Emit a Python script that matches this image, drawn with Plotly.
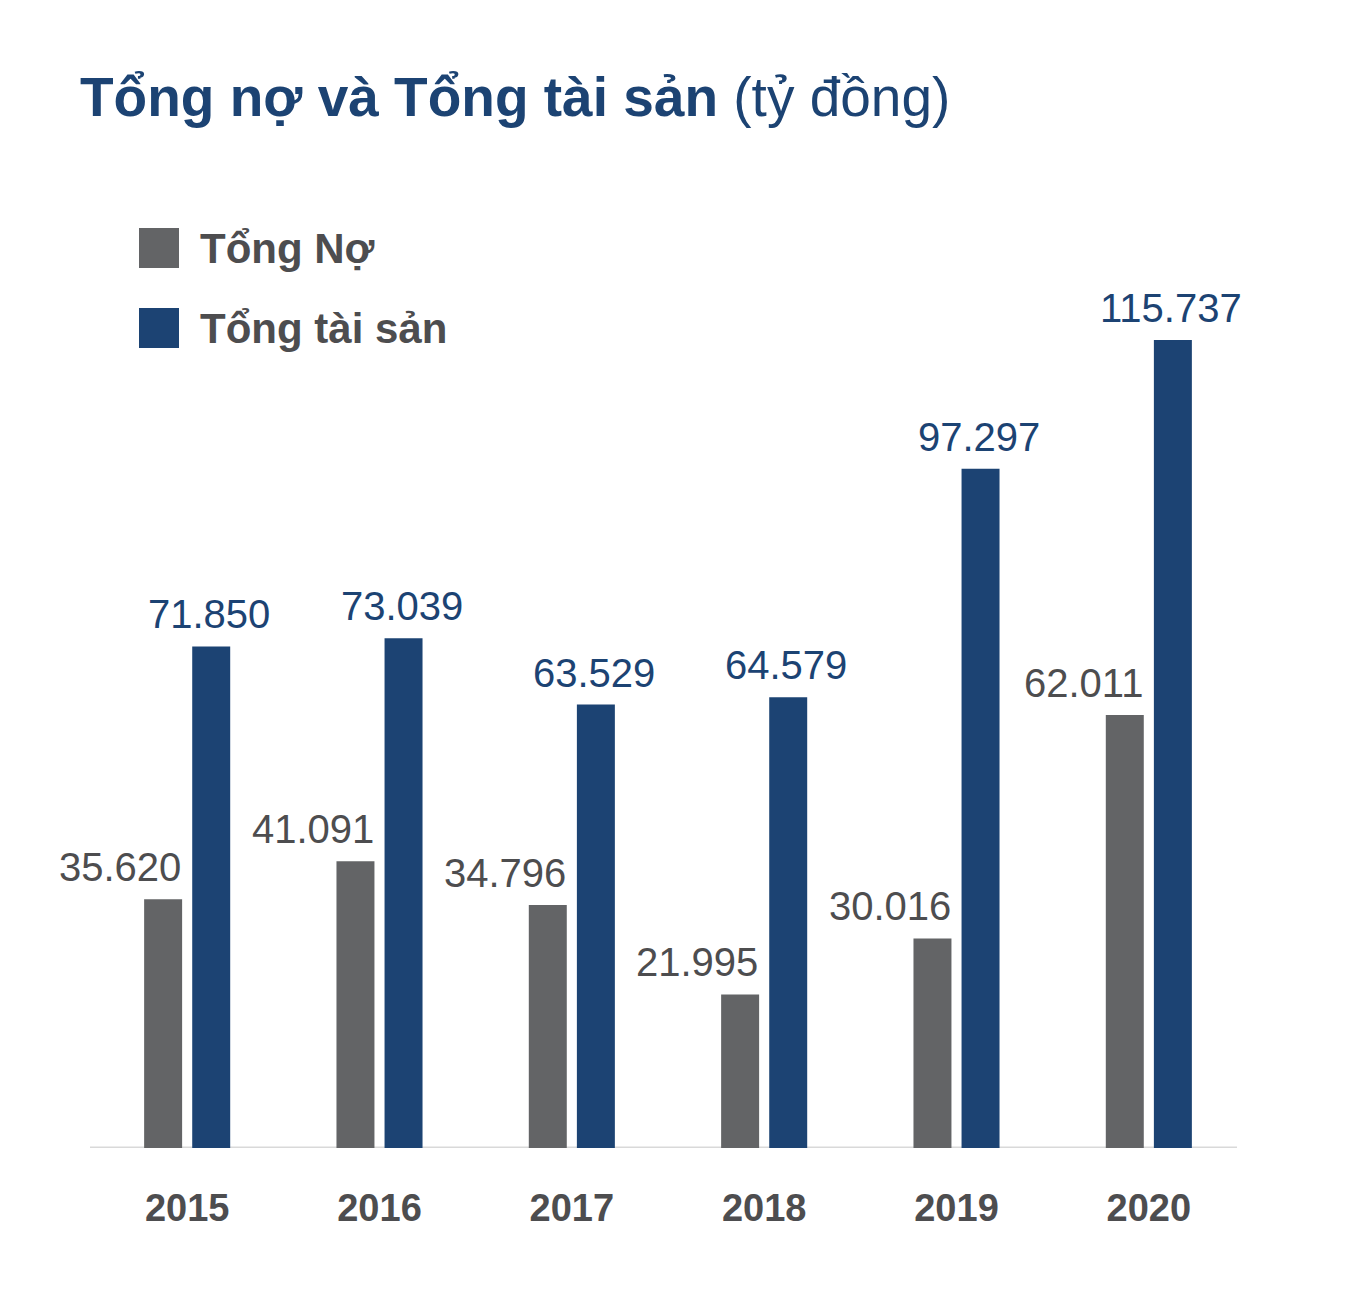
import plotly.graph_objects as go

years = ["2015", "2016", "2017", "2018", "2019", "2020"]
tong_no = [35620, 41091, 34796, 21995, 30016, 62011]
tong_tai_san = [71850, 73039, 63529, 64579, 97297, 115737]
series_names = ["Tổng Nợ", "Tổng tài sản"]

GRAY = "#636466"
BLUE = "#1c4373"
TEXT_GRAY = "#4d4d4f"
FONT = "Liberation Sans, Arial, sans-serif"


def fmt(v):
    return f"{v:,}".replace(",", ".")


fig = go.Figure()
fig.add_trace(go.Bar(x=years, y=tong_no, name=series_names[0], marker_color=GRAY,
                     marker_line_width=0, showlegend=False))
fig.add_trace(go.Bar(x=years, y=tong_tai_san, name=series_names[1], marker_color=BLUE,
                     marker_line_width=0, showlegend=False))

annotations = []
for i, v in enumerate(tong_no):
    annotations.append(dict(x=i, y=v, xref="x", yref="y", text=fmt(v), showarrow=False,
                            xanchor="right", yanchor="bottom", xshift=-4, yshift=8,
                            font=dict(family=FONT, size=40, color=TEXT_GRAY)))
for i, v in enumerate(tong_tai_san):
    annotations.append(dict(x=i, y=v, xref="x", yref="y", text=fmt(v), showarrow=False,
                            xanchor="center", yanchor="bottom", xshift=22, yshift=8,
                            font=dict(family=FONT, size=40, color=BLUE)))

W, H = 1358, 1308
OFF = 8  # page offset of the figure inside the screenshot
L, R, T, B = 83, 121, 192, 168
pw, ph = W - L - R, H - T - B


def px(x):
    return (x - OFF - L) / pw


def py(y):
    return (H - B - (y - OFF)) / ph


# Title
annotations.append(dict(x=px(78), y=py(97), xref="paper", yref="paper",
                        text="<b>Tổng nợ và Tổng tài sản</b> (tỷ đồng)", showarrow=False,
                        xanchor="left", yanchor="middle",
                        font=dict(family=FONT, size=55, color=BLUE)))

shapes = []
# legend
for i, (name, col) in enumerate(zip(series_names, [GRAY, BLUE])):
    top = 228 + i * 80
    shapes.append(dict(type="rect", xref="paper", yref="paper",
                       x0=px(139), x1=px(179), y0=py(top + 40), y1=py(top),
                       fillcolor=col, line_width=0))
    annotations.append(dict(x=px(198), y=py(top + 20), xref="paper", yref="paper",
                            text=f"<b>{name}</b>", showarrow=False, xanchor="left",
                            yanchor="middle",
                            font=dict(family=FONT, size=42, color=TEXT_GRAY)))
# baseline
shapes.append(dict(type="line", xref="paper", yref="y", x0=px(90), x1=px(1237), y0=0, y1=0,
                   line=dict(color="#d9d9d9", width=3), layer="below"))

fig.update_layout(
    width=W, height=H,
    margin=dict(l=L, r=R, t=T, b=B),
    paper_bgcolor="white", plot_bgcolor="white",
    barmode="group", bargap=0.5, bargroupgap=0.21,
    annotations=annotations, shapes=shapes,
    showlegend=False,
    xaxis=dict(type="category", range=[-0.5, 5.5], autorange=False, showgrid=False,
               showline=False, zeroline=False, ticks="",
               tickfont=dict(family=FONT, size=38, color=TEXT_GRAY, weight="bold"),
               ticklabelstandoff=34),
    yaxis=dict(range=[0, 135800], autorange=False, visible=False, showgrid=False,
               zeroline=False),
)

fig.write_html("out.html")
